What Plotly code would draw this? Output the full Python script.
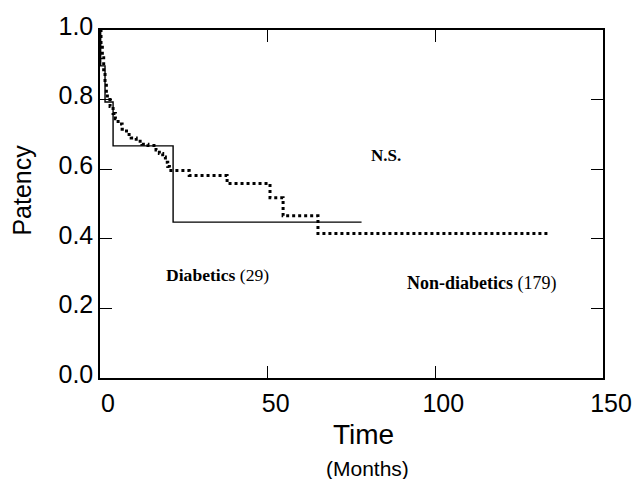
import plotly.graph_objects as go

# Diabetics (29) - Kaplan-Meier steps
diab_time = [0, 0.2, 1.5, 3.9, 21.8, 78]
diab_surv = [1.0, 0.897, 0.793, 0.667, 0.448, 0.448]

# Non-diabetics (179)
nond_time = [0, 0.3, 0.7, 1.1, 1.5, 1.9, 2.2, 3.0, 3.9, 4.6, 5.4, 6.6, 7.9, 9.3,
             10.8, 12.5, 14.3, 16.7, 17.7, 18.7, 19.5, 20.2, 20.7, 26.6, 37.9,
             50.7, 54.6, 65.0, 134.3]
nond_surv = [1.0, 0.96, 0.92, 0.88, 0.85, 0.82, 0.80, 0.78, 0.76, 0.745, 0.73,
             0.715, 0.70, 0.69, 0.68, 0.672, 0.668, 0.655, 0.645, 0.635, 0.62,
             0.608, 0.596, 0.582, 0.559, 0.518, 0.466, 0.415, 0.415]

x_ticks = [0, 50, 100, 150]
y_ticks = [0.0, 0.2, 0.4, 0.6, 0.8, 1.0]
y_tick_text = ["0.0", "0.2", "0.4", "0.6", "0.8", "1.0"]

SANS = "Liberation Sans, Arial, sans-serif"
SERIF = "Liberation Serif, Times New Roman, serif"

fig = go.Figure()
fig.add_trace(go.Scatter(x=nond_time, y=nond_surv, mode="lines", line_shape="hv",
                         line=dict(color="black", width=3, dash="dot"),
                         name="Non-diabetics"))
fig.add_trace(go.Scatter(x=diab_time, y=diab_surv, mode="lines", line_shape="hv",
                         line=dict(color="black", width=1.4),
                         name="Diabetics"))

fig.update_layout(
    width=644, height=479,
    margin=dict(l=100, r=36, t=25, b=101),
    paper_bgcolor="white", plot_bgcolor="white",
    showlegend=False,
    font=dict(family=SANS, color="black"),
    xaxis=dict(range=[0, 150], tickvals=x_ticks, ticks="inside", ticklen=12,
               tickwidth=1.2, tickcolor="black", showline=True, linecolor="black",
               linewidth=1.5, mirror="ticks", showgrid=False, zeroline=False,
               tickfont=dict(size=25, family=SANS), ticklabelshift=8,
               ticklabelstandoff=2),
    yaxis=dict(range=[0, 1.0], tickvals=y_ticks, ticktext=y_tick_text,
               ticks="inside", ticklen=12, tickwidth=1.2, tickcolor="black",
               showline=True, linecolor="black", linewidth=1.5, mirror="ticks",
               showgrid=False, zeroline=False,
               tickfont=dict(size=25, family=SANS), ticklabelshift=-4,
               ticklabelstandoff=0),
)

ann = [
    dict(text="Time", xref="paper", yref="paper", x=0.524, y=-0.161,
         xanchor="center", yanchor="middle", font=dict(size=28, family=SANS)),
    dict(text="(Months)", xref="paper", yref="paper", x=0.531, y=-0.261,
         xanchor="center", yanchor="middle", font=dict(size=21, family=SANS)),
    dict(text="Patency", xref="paper", yref="paper", x=-0.154, y=0.54,
         xanchor="center", yanchor="middle", textangle=-90,
         font=dict(size=25, family=SANS)),
    dict(text="<b>N.S.</b>", xref="x", yref="y", x=80.3, y=0.640, xanchor="left",
         yanchor="middle", font=dict(size=17, family=SERIF)),
    dict(text="<b>Diabetics</b> (29)", xref="x", yref="y", x=19.2, y=0.297,
         xanchor="left", yanchor="middle", font=dict(size=17.6, family=SERIF)),
    dict(text="<b>Non-diabetics</b> (179)", xref="x", yref="y", x=90.9, y=0.272,
         xanchor="left", yanchor="middle", font=dict(size=18, family=SERIF)),
]
for a in ann:
    a.setdefault("showarrow", False)
    fig.add_annotation(**a)

fig.write_html("out.html")
